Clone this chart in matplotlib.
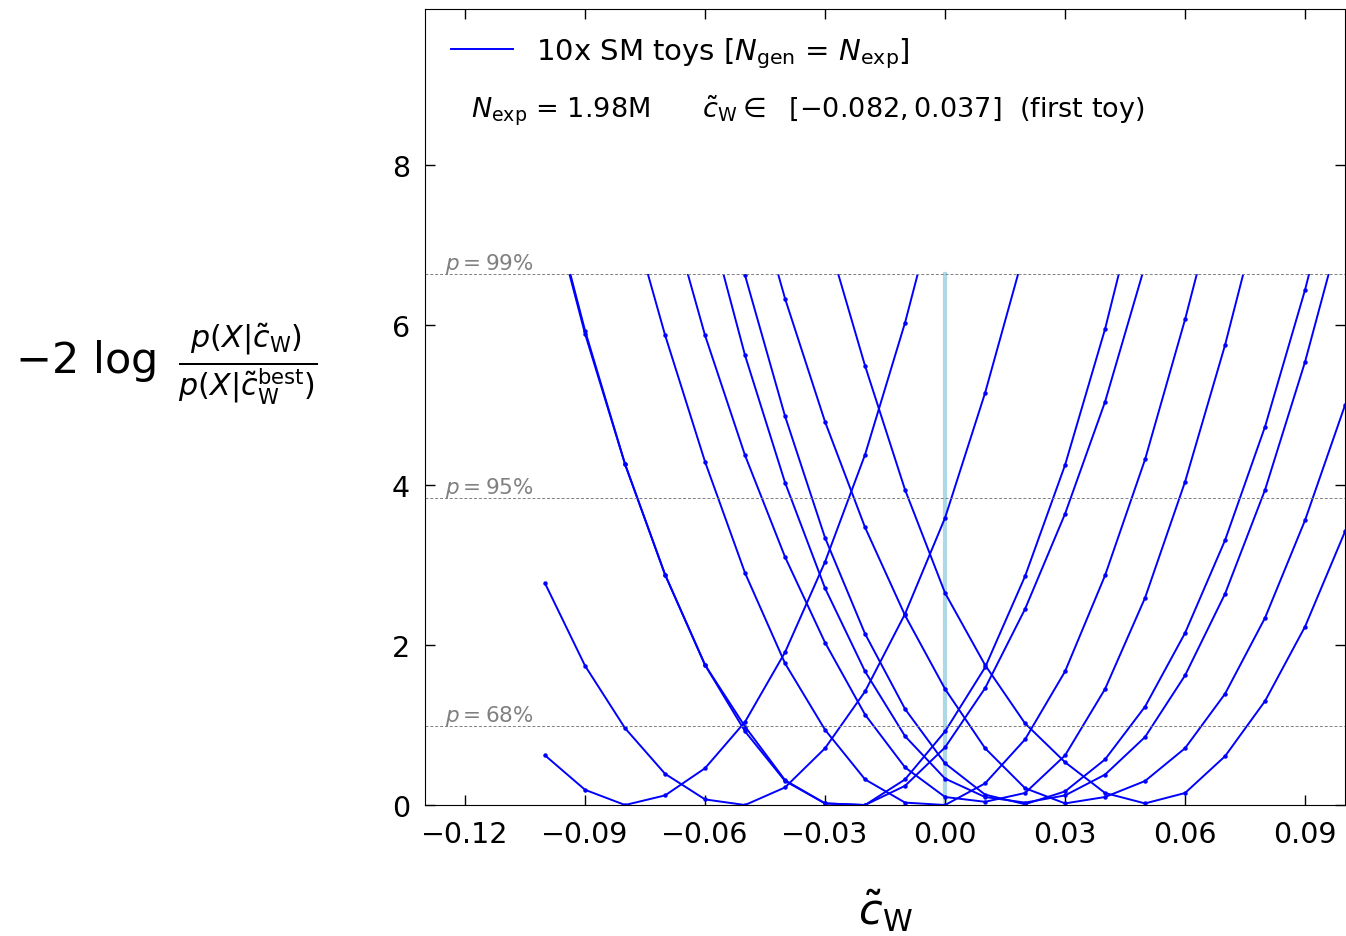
import numpy as np
import matplotlib
matplotlib.use('Agg')
import matplotlib.pyplot as plt
from matplotlib.patches import Rectangle
from matplotlib.lines import Line2D
from matplotlib.ticker import FuncFormatter

nan = np.nan

# scan points in c_W
c_w = [-0.10, -0.09, -0.08, -0.07, -0.06, -0.05, -0.04, -0.03, -0.02, -0.01, 0.00,
       0.01, 0.02, 0.03, 0.04, 0.05, 0.06, 0.07, 0.08, 0.09, 0.10]

# -2 log likelihood ratio for the 10 SM toys (values above p=99% hidden)
toy_1 = [0.62, 0.19, 0.00, 0.12, 0.46, 1.04, 1.91, 3.04, 4.38, 6.03, 7.95,
         nan, nan, nan, nan, nan, nan, nan, nan, nan, nan]
toy_2 = [2.77, 1.74, 0.96, 0.39, 0.07, 0.00, 0.22, 0.71, 1.42, 2.39, 3.59,
         5.15, 6.95, nan, nan, nan, nan, nan, nan, nan, nan]
toy_3 = [7.85, 5.93, 4.26, 2.88, 1.75, 0.98, 0.31, 0.02, 0.00, 0.32, 0.92,
         1.72, 2.86, 4.25, 5.95, 7.95, nan, nan, nan, nan, nan]
toy_4 = [7.80, 5.89, 4.26, 2.88, 1.75, 0.92, 0.30, 0.02, 0.00, 0.24, 0.72,
         1.46, 2.45, 3.64, 5.04, 6.75, nan, nan, nan, nan, nan]
toy_5 = [nan, nan, 7.65, 5.875, 4.29, 2.90, 1.77, 0.94, 0.32, 0.03, 0.00,
         0.27, 0.82, 1.67, 2.87, 4.32, 6.07, 8.00, nan, nan, nan]
toy_6 = [nan, nan, nan, 7.65, 5.87, 4.37, 3.10, 2.03, 1.13, 0.47, 0.10,
         0.04, 0.15, 0.62, 1.45, 2.59, 4.04, 5.75, 7.70, nan, nan]
toy_7 = [nan, nan, nan, nan, 7.50, 5.62, 4.03, 2.71, 1.67, 0.86, 0.33,
         0.10, 0.03, 0.12, 0.38, 0.85, 1.62, 2.64, 3.94, 5.54, 7.40]
toy_8 = [nan, nan, nan, nan, 8.40, 6.62, 4.86, 3.34, 2.14, 1.20, 0.52,
         0.13, 0.01, 0.17, 0.57, 1.23, 2.15, 3.31, 4.73, 6.44, 8.40]
toy_9 = [nan, nan, nan, nan, nan, 8.10, 6.33, 4.79, 3.47, 2.37, 1.45,
         0.71, 0.21, 0.02, 0.10, 0.30, 0.71, 1.39, 2.34, 3.56, 5.00]
toy_10 = [nan, nan, nan, nan, nan, nan, nan, 7.20, 5.49, 3.94, 2.65,
          1.75, 1.02, 0.535, 0.15, 0.02, 0.15, 0.61, 1.30, 2.23, 3.42]

toys = [toy_1, toy_2, toy_3, toy_4, toy_5, toy_6, toy_7, toy_8, toy_9, toy_10]

# chi2 (1 dof) thresholds
p_labels = ['68', '95', '99']
p_levels = [0.989, 3.841, 6.635]

fig = plt.figure(figsize=(13.46, 9.37), dpi=100)
ax = fig.add_axes([0.3158, 0.1398, 0.6835, 0.8495])

x_min, x_max = -0.13, 0.10
y_cut = p_levels[-1]

for toy in toys:
    line, = ax.plot(c_w, toy, color='#0000ff', lw=1.4, marker='o', ms=2.2)
    # only show the part below p = 99%
    clip = Rectangle((x_min, 0), x_max - x_min, y_cut, transform=ax.transData)
    line.set_clip_path(clip)

ax.plot([0, 0], [0, y_cut], color='lightblue', lw=3, zorder=1)

for lab, lev in zip(p_labels, p_levels):
    ax.axhline(lev, color='grey', ls='--', lw=0.7, dashes=(3, 2))
    ax.text(-0.125, lev - 0.01, '$p = %s\\%%$' % lab, color='grey', fontsize=15.5,
            ha='left', va='bottom')

ax.set_xlim(x_min, x_max)
ax.set_ylim(0, 9.95)
ax.set_xticks([-0.12, -0.09, -0.06, -0.03, 0.00, 0.03, 0.06, 0.09])
ax.set_yticks([0, 2, 4, 6, 8])
ax.xaxis.set_major_formatter(FuncFormatter(lambda v, pos: ('%.2f' % v).replace('-', '\u2212')))
ax.tick_params(direction='in', top=True, right=True, length=7, width=1,
               labelsize=20.5, pad=11)

ax.set_xlabel(r'$\tilde{c}_{\rm W}$', fontsize=31, va='center')
ax.xaxis.set_label_coords(0.5, -0.132)
ax.set_ylabel(r'$-2\ \log\ \frac{p(X|\tilde{c}_{\rm W})}{p(X|\tilde{c}_{\rm W}^{\rm best})}$',
              fontsize=31, rotation=0, ha='center', va='center')
ax.yaxis.set_label_coords(-0.281, 0.555)

handle = Line2D([], [], color='#0000ff', lw=1.4)
ax.legend([handle], ['10x SM toys [$N_{\\rm gen}$ = $N_{\\rm exp}$]'],
          loc='upper left', frameon=False, fontsize=21, handlelength=2.1,
          handletextpad=0.8, bbox_to_anchor=(0.0, 1.0), borderaxespad=0.5)
ax.text(0.05, 0.873,
        r'$N_{\rm exp}$ = 1.98M      $\tilde{c}_{\rm W} \in$  [$-0.082, 0.037$]  (first toy)',
        transform=ax.transAxes, fontsize=19.5, ha='left', va='center')

fig.savefig('out.png', dpi=100)
